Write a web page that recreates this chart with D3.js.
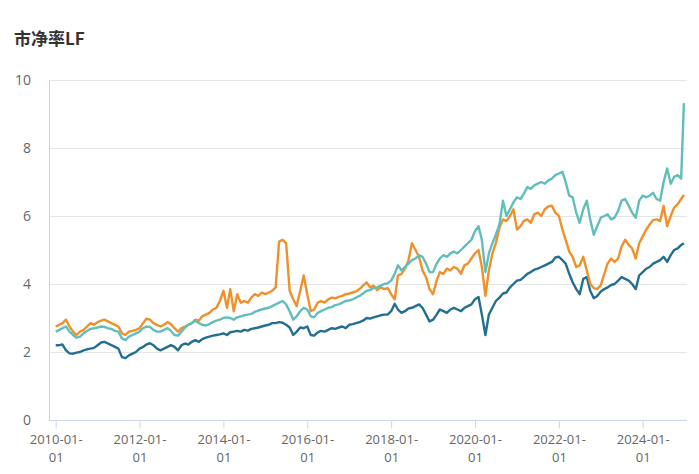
<!DOCTYPE html>
<html>
<head>
<meta charset="utf-8">
<script src="https://cdn.jsdelivr.net/npm/d3@7"></script>
<style>
  html, body { margin: 0; padding: 0; background: #fff; }
  svg { display: block; }
</style>
</head>
<body>
<svg id="chart" width="699" height="474"></svg>
<script>
// ---- data ----
const title = "市净率LF";
const startMonth = "2010-01-01";
const endMonth = "2025-01-01";
const lastDate = "2024-12-25";
const tickDates = ["2010-01-01","2012-01-01","2014-01-01","2016-01-01","2018-01-01","2020-01-01","2022-01-01","2024-01-01"];
const yTicks = [0, 2, 4, 6, 8, 10];

const seriesBlue = [
  2.2, 2.2, 2.22, 2.05, 1.96, 1.95, 1.98, 2.0, 2.05, 2.08, 2.1, 2.12,
  2.2, 2.28, 2.3, 2.25, 2.2, 2.15, 2.1, 1.85, 1.82, 1.9, 1.95, 2.0,
  2.1, 2.15, 2.22, 2.26, 2.2, 2.1, 2.05, 2.1, 2.15, 2.2, 2.15, 2.05,
  2.2, 2.25, 2.22, 2.3, 2.35, 2.3, 2.38, 2.42, 2.45, 2.48, 2.5, 2.52,
  2.55, 2.5, 2.58, 2.6, 2.62, 2.6, 2.65, 2.63, 2.68, 2.7, 2.72, 2.75,
  2.78, 2.8, 2.85, 2.85, 2.88, 2.86, 2.8, 2.72, 2.5, 2.6, 2.72, 2.7,
  2.75, 2.5, 2.48, 2.58, 2.62, 2.6, 2.65, 2.7, 2.68, 2.72, 2.75, 2.7,
  2.8, 2.82, 2.85, 2.88, 2.92, 3.0, 2.98, 3.02, 3.05, 3.08, 3.1, 3.1,
  3.2, 3.42, 3.25, 3.15, 3.2, 3.28, 3.3, 3.35, 3.4, 3.3, 3.1, 2.9,
  2.95, 3.1, 3.25, 3.2, 3.15, 3.25, 3.3, 3.25, 3.2, 3.3, 3.35, 3.4,
  3.55, 3.62, 3.1, 2.5, 3.1, 3.3, 3.5, 3.6, 3.72, 3.75, 3.9, 4.0,
  4.1, 4.12, 4.2, 4.3, 4.35, 4.42, 4.45, 4.5, 4.55, 4.6, 4.65, 4.78,
  4.8, 4.7, 4.6, 4.3, 4.05, 3.85, 3.7, 4.15, 4.2, 3.8, 3.58, 3.65,
  3.78, 3.85, 3.9, 3.97, 4.0, 4.1, 4.2, 4.15, 4.1, 4.0, 3.85, 4.25,
  4.35, 4.45, 4.5, 4.6, 4.65, 4.7, 4.8, 4.65, 4.85, 5.0, 5.05, 5.15,
  5.2
];
const seriesOrange = [
  2.75, 2.8, 2.85, 2.95, 2.75, 2.6, 2.5, 2.6, 2.65, 2.75, 2.85, 2.8,
  2.88, 2.92, 2.95, 2.9, 2.85, 2.8, 2.75, 2.55, 2.5, 2.6, 2.62, 2.65,
  2.7, 2.85, 2.98, 2.95, 2.85, 2.8, 2.75, 2.8, 2.88, 2.82, 2.7, 2.6,
  2.7, 2.75, 2.8, 2.85, 2.95, 2.92, 3.05, 3.1, 3.15, 3.25, 3.3, 3.5,
  3.8, 3.3, 3.85, 3.2, 3.7, 3.45, 3.5, 3.45, 3.6, 3.7, 3.65, 3.75,
  3.7, 3.75, 3.8, 3.9, 5.25, 5.3, 5.2, 3.8, 3.55, 3.35, 3.8, 4.25,
  3.7, 3.2, 3.25, 3.45, 3.5, 3.45, 3.55, 3.6, 3.58, 3.62, 3.65, 3.7,
  3.72, 3.75, 3.78, 3.85, 3.95, 4.05, 3.9, 3.95, 3.82, 3.9, 3.85, 3.88,
  3.7, 3.55, 4.25, 4.3, 4.45, 4.7, 5.2, 5.0, 4.8, 4.4, 4.2, 3.85,
  3.7, 4.1, 4.35, 4.3, 4.45, 4.4, 4.5, 4.45, 4.3, 4.55, 4.6, 4.75,
  4.9, 5.0, 4.5, 3.65, 4.4, 4.9, 5.2, 5.65, 5.9, 5.85, 6.0, 6.2,
  5.6, 5.7, 5.85, 5.9, 5.8, 6.05, 6.1, 6.0, 6.2, 6.28, 6.3, 6.1,
  6.0, 5.6, 5.3, 4.95, 4.8, 4.5, 4.55, 4.8, 4.4, 4.0, 3.88, 3.85,
  3.97, 4.3, 4.6, 4.75, 4.65, 4.75, 5.1, 5.3, 5.15, 5.05, 4.75, 5.2,
  5.4, 5.6, 5.75, 5.88, 5.9, 5.85, 6.3, 5.7, 6.0, 6.25, 6.35, 6.5,
  6.62
];
const seriesTeal = [
  2.6, 2.65, 2.7, 2.75, 2.6, 2.5, 2.42, 2.45, 2.55, 2.62, 2.68, 2.7,
  2.72, 2.75, 2.74, 2.7, 2.68, 2.62, 2.6, 2.4, 2.35, 2.45, 2.5, 2.55,
  2.6, 2.7, 2.75, 2.74, 2.65, 2.6, 2.6, 2.65, 2.7, 2.62, 2.5, 2.48,
  2.6, 2.72, 2.8, 2.85, 2.92, 2.85, 2.8, 2.78, 2.82, 2.88, 2.92, 2.95,
  3.0, 3.02, 3.0, 2.95, 3.02, 3.05, 3.08, 3.1, 3.12, 3.18, 3.22, 3.25,
  3.28, 3.3, 3.35, 3.4, 3.45, 3.5, 3.4, 3.2, 2.95, 3.05, 3.2, 3.3,
  3.25, 3.05, 3.02, 3.15, 3.2, 3.25, 3.3, 3.32, 3.38, 3.4, 3.45, 3.5,
  3.52, 3.55, 3.6, 3.65, 3.72, 3.8, 3.82, 3.88, 3.9, 3.95, 4.0, 4.02,
  4.1, 4.3, 4.55, 4.4, 4.5, 4.6, 4.7, 4.75, 4.85, 4.8, 4.6, 4.35,
  4.35, 4.6, 4.75, 4.85, 4.8, 4.9, 4.95, 4.9, 5.0, 5.1, 5.2, 5.3,
  5.55, 5.7, 5.3, 4.35, 4.9, 5.2, 5.45, 5.75, 6.45, 6.0, 6.2, 6.4,
  6.55, 6.5, 6.65, 6.85, 6.8, 6.9, 6.95, 7.0, 6.95, 7.05, 7.1, 7.2,
  7.25, 7.3, 7.0, 6.6, 6.55, 6.1, 5.8, 6.2, 6.45, 5.9, 5.45, 5.7,
  5.95, 6.0, 6.05, 5.9, 5.95, 6.15, 6.45, 6.5, 6.3, 6.1, 5.95, 6.45,
  6.6, 6.55, 6.6, 6.68, 6.5, 6.45, 7.0, 7.4, 6.95, 7.15, 7.2, 7.1,
  9.32
];
const seriesColors = ["#236f91", "#f0902b", "#62bebb"];

// ---- build ----
const parse = d3.utcParse("%Y-%m-%d");
const dates = d3.utcMonth.range(parse(startMonth), parse(endMonth)).concat([parse(lastDate)]);
const allSeries = [seriesBlue, seriesOrange, seriesTeal].map(vals => vals.map((v, i) => ({ d: dates[i], v })));

const svg = d3.select("#chart");
const plotLeft = 49, plotRight = 687, plotTop = 80, plotBottom = 420;

const x = d3.scaleUtc()
  .domain([parse(tickDates[0]), parse(tickDates[tickDates.length - 1])])
  .range([55.7, 642.7]);
const y = d3.scaleLinear().domain([0, 10]).range([plotBottom, plotTop]);

// title
svg.append("text")
  .attr("x", 14).attr("y", 45)
  .attr("font-family", "'Noto Sans CJK SC', 'Noto Sans', sans-serif")
  .attr("font-size", 17).attr("font-weight", "bold")
  .attr("fill", "#333")
  .text(title);

// grid lines
svg.append("g").selectAll("line")
  .data(yTicks.filter(t => t > 0))
  .join("line")
  .attr("x1", plotLeft).attr("x2", plotRight)
  .attr("y1", d => y(d) + 0.5).attr("y2", d => y(d) + 0.5)
  .attr("stroke", "#e6e6e6").attr("stroke-width", 1);

// y axis
const yAxis = d3.axisLeft(y).tickValues(yTicks).tickSize(0).tickPadding(0);
const gy = svg.append("g").attr("transform", `translate(${plotLeft + 0.5},0)`).call(yAxis);
gy.select(".domain").attr("stroke", "#ccd6eb").attr("d", `M0,${plotTop}V${plotBottom}`);
gy.selectAll("text")
  .attr("x", -18.5)
  .attr("font-family", "'Open Sans', sans-serif")
  .attr("font-size", 14).attr("fill", "#666");

// x axis
const xAxis = d3.axisBottom(x).tickValues(tickDates.map(parse)).tickSize(8).tickFormat(() => "");
const gx = svg.append("g").attr("transform", `translate(0,${plotBottom + 0.5})`).call(xAxis);
gx.select(".domain").attr("stroke", "#ccd6eb").attr("d", `M${plotLeft},0H${plotRight}`);
gx.selectAll(".tick line").attr("stroke", "#ccd6eb");
gx.selectAll(".tick").each(function(d, i) {
  const s = tickDates[i];
  const g = d3.select(this);
  g.append("text")
    .attr("fill", "#666").attr("font-family", "'Open Sans', sans-serif")
    .attr("font-size", 13).attr("text-anchor", "middle")
    .attr("x", 0).attr("y", 23.5).text(s.slice(0, 8));
  g.append("text")
    .attr("fill", "#666").attr("font-family", "'Open Sans', sans-serif")
    .attr("font-size", 13).attr("text-anchor", "middle")
    .attr("x", 0).attr("y", 41.5).text(s.slice(8));
});

// lines
const line = d3.line().x(p => x(p.d)).y(p => y(p.v));
svg.append("g").selectAll("path")
  .data(allSeries)
  .join("path")
  .attr("d", line)
  .attr("fill", "none")
  .attr("stroke", (d, i) => seriesColors[i])
  .attr("stroke-width", 2.4)
  .attr("stroke-linejoin", "round");
</script>
</body>
</html>
